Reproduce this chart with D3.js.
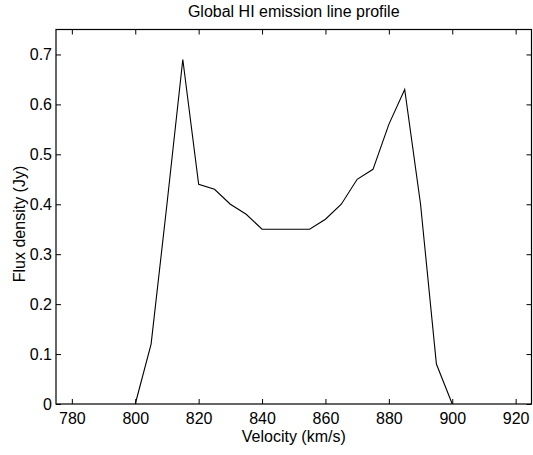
<!DOCTYPE html>
<html>
<head>
<meta charset="utf-8">
<script src="https://cdn.jsdelivr.net/npm/d3@7"></script>
<style>
  html, body { margin: 0; padding: 0; background: #fff; }
  svg { display: block; }
  text { font-family: "Liberation Sans", Arial, Helvetica, sans-serif; fill: #000; }
</style>
</head>
<body>
<svg id="chart" width="533" height="455"></svg>
<script>
// ---- data ----
const velocity = [800, 805, 810, 815, 820, 825, 830, 835, 840, 845, 850, 855, 860, 865, 870, 875, 880, 885, 890, 895, 900];
const flux     = [0, 0.12, 0.40, 0.69, 0.44, 0.43, 0.40, 0.38, 0.35, 0.35, 0.35, 0.35, 0.37, 0.40, 0.45, 0.47, 0.56, 0.63, 0.40, 0.08, 0];
const xTicks = [780, 800, 820, 840, 860, 880, 900, 920];
const yTicks = [0, 0.1, 0.2, 0.3, 0.4, 0.5, 0.6, 0.7];
const xDomain = [775, 925];
const yDomain = [0, 0.75];
const titleText = "Global HI emission line profile";
const xLabel = "Velocity (km/s)";
const yLabel = "Flux density (Jy)";

// ---- layout ----
const L = 56, R = 531.5, T = 29.5, B = 404;
const fontSize = 16;
const svg = d3.select("#chart");

const x = d3.scaleLinear().domain(xDomain).range([L, R]);
const y = d3.scaleLinear().domain(yDomain).range([B, T]);

const tickLen = 5;

// bottom axis (ticks inward)
const gB = svg.append("g").attr("transform", `translate(0,${B})`)
  .call(d3.axisBottom(x).tickValues(xTicks).tickSize(-tickLen).tickPadding(9).tickFormat(d3.format("d")));
// top axis (ticks inward, no labels)
const gT = svg.append("g").attr("transform", `translate(0,${T})`)
  .call(d3.axisTop(x).tickValues(xTicks).tickSize(-tickLen).tickFormat(""));
// left axis
const gL = svg.append("g").attr("transform", `translate(${L},0)`)
  .call(d3.axisLeft(y).tickValues(yTicks).tickSize(-tickLen).tickPadding(4).tickFormat(d => d === 0 ? "0" : d3.format(".1f")(d)));
// right axis
const gR = svg.append("g").attr("transform", `translate(${R},0)`)
  .call(d3.axisRight(y).tickValues(yTicks).tickSize(-tickLen).tickFormat(""));

[gB, gT, gL, gR].forEach(g => {
  g.select(".domain").remove();
  g.selectAll(".tick line").attr("stroke", "#000").attr("stroke-width", 1);
  g.selectAll(".tick text").attr("font-size", fontSize).attr("font-family", "Liberation Sans, Arial, sans-serif").attr("fill", "#000");
});

// box
svg.append("rect")
  .attr("x", L).attr("y", T).attr("width", R - L).attr("height", B - T)
  .attr("fill", "none").attr("stroke", "#000").attr("stroke-width", 1.2);

// line
const line = d3.line().x((d, i) => x(velocity[i])).y(d => y(d));
svg.append("path")
  .datum(flux)
  .attr("d", line)
  .attr("fill", "none")
  .attr("stroke", "#000")
  .attr("stroke-width", 1.1);

// title
svg.append("text")
  .attr("x", (L + R) / 2).attr("y", 17)
  .attr("text-anchor", "middle").attr("font-size", fontSize)
  .text(titleText);

// x label
svg.append("text")
  .attr("x", (L + R) / 2).attr("y", 442)
  .attr("text-anchor", "middle").attr("font-size", fontSize)
  .text(xLabel);

// y label
svg.append("text")
  .attr("transform", `translate(25,224) rotate(-90)`)
  .attr("text-anchor", "middle").attr("font-size", fontSize)
  .text(yLabel);
</script>
</body>
</html>
